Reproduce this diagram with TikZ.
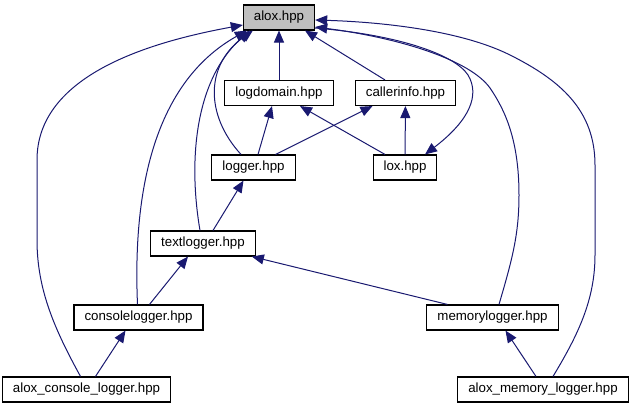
\documentclass[tikz,border=0pt]{standalone}
\usepackage{xcolor}
\usepackage{fontspec}
\setmainfont{Liberation Sans}
\usepackage{tikz}
\usetikzlibrary{arrows.meta}
\definecolor{azulnoite}{RGB}{25,25,112}

\begin{document}
\begin{tikzpicture}[x=1pt, y=-1pt,
    arq/.style={draw=black, line width=1.1pt, fill=white, minimum height=25pt, inner xsep=10.5pt, inner ysep=0pt, font=\fontsize{13.3}{15}\selectfont},
    arqG/.style={arq, fill=black!25},
    inclui/.style={-{Triangle[length=12pt, width=10pt]}, line width=1pt, azulnoite}
  ]
    \useasboundingbox (0,0) rectangle (632,411);
    \node[arqG] (alox) at (279,17.5) {alox.hpp};
    \node[arq] (logdomain) at (279,93) {logdomain.hpp};
    \node[arq] (callerinfo) at (405.5,93) {callerinfo.hpp};
    \node[arq] (logger) at (253.5,167.5) {logger.hpp};
    \node[arq] (lox) at (405,167.5) {lox.hpp};
    \node[arq] (textlogger) at (203,243.5) {textlogger.hpp};
    \node[arq] (consolelogger) at (138.5,317.5) {consolelogger.hpp};
    \node[arq] (memorylogger) at (492.5,317.5) {memorylogger.hpp};
    \node[arq] (aloxconsole) at (86.5,389.5) {alox\_console\_logger.hpp};
    \node[arq] (aloxmemory) at (543,389.5) {alox\_memory\_logger.hpp};
    % straight includes
    \draw[inclui] (logdomain) -- (alox);
    \draw[inclui] ([xshift=-20.5pt]callerinfo.north) -- ([xshift=26pt]alox.south);
    \draw[inclui] ([xshift=4.5pt]logger.north) -- ([xshift=-7pt]logdomain.south);
    \draw[inclui] ([xshift=22pt]logger.north) -- ([xshift=-33pt]callerinfo.south);
    \draw[inclui] ([xshift=-20pt]lox.north) -- ([xshift=21pt]logdomain.south);
    \draw[inclui] (lox) -- (callerinfo);
    \draw[inclui] ([xshift=10pt]textlogger.north) -- ([xshift=-10pt]logger.south);
    \draw[inclui] ([xshift=11pt]consolelogger.north) -- ([xshift=-15pt]textlogger.south);
    \draw[inclui] ([xshift=-45pt]memorylogger.north) -- ([xshift=-4pt]textlogger.south east);
    \draw[inclui] ([xshift=9pt]aloxconsole.north) -- ([xshift=-13pt]consolelogger.south);
    \draw[inclui] ([xshift=-7pt]aloxmemory.north) -- ([xshift=13pt]memorylogger.south);
    % curved includes, left side
    \draw[inclui] ([xshift=-6pt]aloxconsole.north) .. controls (55,330) and (37,290) .. (37,240)
      -- (37,160) .. controls (37,75) and (150,42) .. ([yshift=-7.5pt]alox.west);
    \draw[inclui] ([xshift=-1pt]consolelogger.north) .. controls (133,200) and (150,85) .. ([xshift=4pt]alox.south west);
    \draw[inclui] ([xshift=-3pt]textlogger.north) .. controls (188,160) and (195,80) .. ([xshift=7pt]alox.south west);
    \draw[inclui] ([xshift=-12.5pt]logger.north) .. controls (205,115) and (205,65) .. ([xshift=10pt]alox.south west);
    % curved includes, right side
    \draw[inclui] ([xshift=10pt]aloxmemory.north) .. controls (578,335) and (595,300) .. (595,255)
      -- (595,165) .. controls (595,110) and (560,80) .. (510,55)
      .. controls (460,30) and (380,22) .. ([yshift=-2.5pt]alox.east);
    \draw[inclui] ([xshift=6.5pt]memorylogger.north) .. controls (512,260) and (519,235) .. (519,195)
      .. controls (519,140) and (505,110) .. (490,88)
      .. controls (470,60) and (400,38) .. ([yshift=-9.5pt]alox.east);
    \draw[inclui] ([yshift=-10.5pt]alox.east) .. controls (400,35) and (455,55) .. (468,75)
      .. controls (480,95) and (470,120) .. ([xshift=20pt]lox.north);
  \end{tikzpicture}
\end{document}
